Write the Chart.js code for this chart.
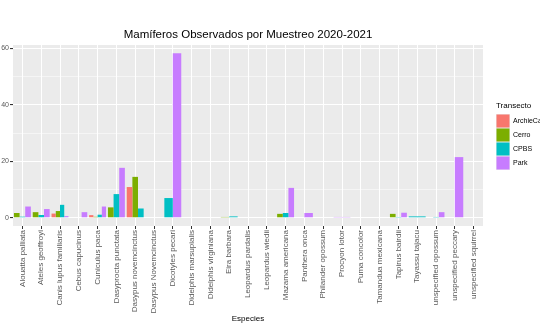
<!DOCTYPE html>
<html>
<head>
<meta charset="utf-8">
<script src="https://cdn.jsdelivr.net/npm/chart.js@4"></script>
<style>
  html, body { margin: 0; padding: 0; background: #fff; }
  #wrap { width: 540px; height: 326px; }
</style>
</head>
<body>
<div id="wrap"><canvas id="c" width="540" height="326"></canvas></div>
<script>
// species on the x axis
const especies = [
  'Alouatta palliata', 'Ateles geoffroyi', 'Canis lupus familiaris', 'Cebus capucinus',
  'Cuniculus paca', 'Dasyprocta punctata', 'Dasypus novemcinctus', 'Dasypus Novemcinctus',
  'Dicotyles pecari', 'Didelphis marsupialis', 'Didelphis virginiana', 'Eira barbara',
  'Leopardus pardalis', 'Leopardus wiedii', 'Mazama americana', 'Panthera onca',
  'Philander opossum', 'Procyon lotor', 'Puma concolor', 'Tamandua mexicana',
  'Tapirus bairdii', 'Tayassu tajacu', 'unspecified opossum', 'unspecified peccary',
  'unspecified squirrel'
];

// one array per transect (null = not observed there)
const archieCarr = [null, null, 1.5, null, 0.95, null, 10.9, null, null, null, null, null, null, null, null, null, null, null, null, null, null, null, null, null, null];
const cerro      = [1.7, 2.0, 2.4, 0.2, 0.35, 3.7, 14.5, null, null, null, null, 0.3, 0.2, null, 1.4, null, null, null, null, null, 1.4, null, 0.2, null, null];
const cpbs       = [0.4, 1.0, 4.6, 0.2, 1.1, 8.4, 3.3, 0, 7.0, 0.2, 0.2, 0.5, null, 0.2, 1.7, 0.2, 0.2, null, 0.2, 0, 0.1, 0.5, 0.3, 0.2, 0];
const park       = [4.0, 3.1, 0.6, 2.0, 4.0, 17.7, null, null, 58.3, null, null, null, null, null, 10.6, 1.7, null, 0.3, null, null, 1.8, null, 2.0, 21.5, null];

const transectos = ['ArchieCarr', 'Cerro', 'CPBS', 'Park'];
const colores = ['#F8766D', '#7CAE00', '#00BFC4', '#C77CFF'];

const yTicks = [0, 10, 20, 30, 40, 50, 60];
const yMin = -2.9;
const yMax = 61.2;

const FONT = '"Liberation Sans", Arial, sans-serif';

// gray ggplot panel behind everything
const panelBg = {
    id: 'panelBg',
    beforeDraw(chart) {
        const { ctx, chartArea: a } = chart;
        ctx.save();
        ctx.fillStyle = '#fff';
        ctx.fillRect(0, 0, chart.width, chart.height);
        ctx.fillStyle = '#EBEBEB';
        ctx.fillRect(a.left, a.top, a.right - a.left, a.bottom - a.top);
        ctx.restore();
    }
};

// title + legend drawn by hand to sit where ggplot puts them
const extras = {
    id: 'extras',
    afterDraw(chart) {
        const { ctx, chartArea: a } = chart;
        ctx.save();
        ctx.fillStyle = '#000';
        ctx.font = '11.5px ' + FONT;
        ctx.textAlign = 'center';
        ctx.textBaseline = 'middle';
        ctx.fillText('Mamíferos Observados por Muestreo 2020-2021', (a.left + a.right) / 2, 35);

        const lx = 496, ly = 114;
        ctx.textAlign = 'left';
        ctx.font = '8px ' + FONT;
        ctx.fillText('Transecto', lx, 106);
        ctx.font = '7px ' + FONT;
        chart.data.datasets.forEach((ds, i) => {
            const y = ly + i * 14;
            ctx.fillStyle = '#EBEBEB';
            ctx.fillRect(lx, y, 14, 14);
            ctx.fillStyle = ds.backgroundColor;
            ctx.fillRect(lx + 0.5, y + 0.5, 13, 13);
            ctx.fillStyle = '#000';
            ctx.fillText(ds.label, lx + 17, y + 7);
        });
        ctx.restore();
    }
};

const datasets = [archieCarr, cerro, cpbs, park].map((vals, i) => ({
    label: transectos[i],
    data: vals,
    backgroundColor: colores[i],
    borderWidth: 0,
    skipNull: true,
    categoryPercentage: 0.9,
    barPercentage: 1.0
}));

new Chart(document.getElementById('c'), {
    type: 'bar',
    data: { labels: especies, datasets: datasets },
    plugins: [panelBg, extras],
    options: {
        responsive: false,
        animation: false,
        layout: { padding: { top: 45, right: 57, bottom: 0, left: 0 } },
        plugins: {
            legend: { display: false },
            title: { display: false },
            tooltip: { enabled: false }
        },
        scales: {
            x: {
                afterFit: (s) => { s.height = 100; },
                grid: {
                    offset: false,
                    color: '#fff',
                    lineWidth: 1,
                    tickColor: '#333',
                    tickLength: 3
                },
                border: { display: false },
                ticks: {
                    autoSkip: false,
                    minRotation: 90,
                    maxRotation: 90,
                    padding: 1,
                    color: '#585858',
                    font: { family: FONT, size: 8 }
                },
                title: {
                    display: true,
                    text: 'Especies',
                    color: '#000',
                    font: { family: FONT, size: 8 },
                    padding: { top: 0, bottom: 2 }
                }
            },
            y: {
                min: yMin,
                max: yMax,
                afterFit: (s) => { s.width = 13; },
                afterBuildTicks: (s) => { s.ticks = yTicks.map(v => ({ value: v })); },
                grid: {
                    color: '#fff',
                    lineWidth: (c) => (c.tick && c.tick.value % 20 === 0 ? 1.1 : 0.5),
                    tickColor: (c) => (c.tick && c.tick.value % 20 === 0 ? '#333' : 'rgba(0,0,0,0)'),
                    tickLength: 3
                },
                border: { display: false },
                ticks: {
                    padding: 1,
                    color: '#585858',
                    font: { family: FONT, size: 7 },
                    callback: (v) => (v % 20 === 0 ? String(v) : '')
                }
            }
        }
    }
});
</script>
</body>
</html>
